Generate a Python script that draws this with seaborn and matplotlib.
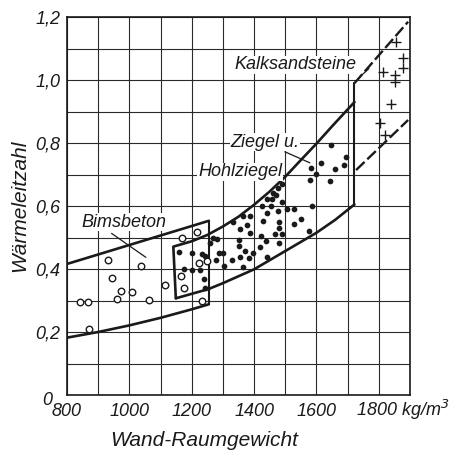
import matplotlib
matplotlib.use("Agg")
import matplotlib.pyplot as plt
import seaborn as sns
import pandas as pd
import numpy as np

# ---------------- data ----------------
# Bimsbeton (open circles)
bims_x = [842, 868, 871, 933, 944, 960, 973, 1008, 1036, 1064, 1115, 1166, 1168, 1176, 1216, 1222, 1233, 1248]
bims_y = [0.295, 0.295, 0.211, 0.428, 0.372, 0.304, 0.330, 0.327, 0.409, 0.301, 0.348, 0.377, 0.498, 0.341, 0.516, 0.418, 0.297, 0.425]

# Ziegel u. Hohlziegel (filled dots)
zieg_x = [1160, 1200, 1232, 1243, 1176, 1200, 1228, 1240, 1241,
          1258, 1268, 1278, 1280, 1286, 1299, 1303, 1328, 1333, 1352, 1352, 1354, 1354,
          1365, 1365, 1370, 1376, 1384, 1387, 1387, 1397, 1419, 1421, 1424, 1429, 1438,
          1440, 1440, 1440, 1454, 1456, 1467, 1470, 1477, 1481, 1481, 1481, 1491, 1491,
          1490, 1477, 1461, 1504, 1529, 1529, 1552, 1575, 1587,
          1579, 1584, 1600, 1616, 1643, 1648, 1659, 1688, 1694]
zieg_y = [0.453, 0.450, 0.448, 0.440, 0.400, 0.397, 0.396, 0.367, 0.340,
          0.481, 0.497, 0.429, 0.494, 0.450, 0.450, 0.410, 0.429, 0.550, 0.492, 0.473, 0.526, 0.439,
          0.568, 0.407, 0.458, 0.540, 0.434, 0.568, 0.513, 0.452, 0.471, 0.505, 0.600, 0.553, 0.490,
          0.439, 0.579, 0.621, 0.600, 0.621, 0.511, 0.635, 0.585, 0.550, 0.529, 0.481, 0.614, 0.511,
          0.670, 0.656, 0.641, 0.589, 0.589, 0.543, 0.558, 0.522, 0.600,
          0.683, 0.722, 0.702, 0.735, 0.678, 0.794, 0.718, 0.730, 0.754]

# Kalksandsteine (crosses)
kalk_x = [1856, 1877, 1877, 1815, 1851, 1851, 1840, 1803, 1819]
kalk_y = [1.120, 1.071, 1.037, 1.026, 1.016, 0.995, 0.924, 0.863, 0.825]

# region boundaries
bims_up_x = [800, 1255]
bims_up_y = [0.416, 0.553]
bims_lo_x = [800, 900, 1000, 1100, 1200, 1255]
bims_lo_y = [0.182, 0.200, 0.221, 0.245, 0.272, 0.288]
bims_edge_x = [1255, 1255]
bims_edge_y = [0.553, 0.288]

zieg_up_x = [1149, 1141, 1200, 1250, 1300, 1350, 1400, 1450, 1500, 1550, 1600, 1650, 1722]
zieg_up_y = [0.307, 0.471, 0.488, 0.508, 0.535, 0.566, 0.604, 0.646, 0.693, 0.746, 0.798, 0.853, 0.930]
zieg_lo_x = [1149, 1253, 1300, 1400, 1500, 1600, 1660, 1722]
zieg_lo_y = [0.307, 0.336, 0.355, 0.399, 0.457, 0.515, 0.556, 0.605]
edge_x = [1722, 1722]
edge_y = [0.605, 0.990]

kalk_up_x = [1722, 1894]
kalk_up_y = [0.990, 1.185]
kalk_lo_x = [1727, 1894]
kalk_lo_y = [0.714, 0.873]

x_ticks = list(range(800, 1901, 100))
x_labels = ["800", "", "1000", "", "1200", "", "1400", "", "1600", "", "", ""]
y_ticks = [round(0.1 * i, 1) for i in range(13)]
y_labels = ["", "", "0,2", "", "0,4", "", "0,6", "", "0,8", "", "1,0", "", "1,2"]
last_x_label = "1800 kg/m$^3$"
origin_label = "0"

# ---------------- style ----------------
sns.set_theme(style="white")
FAM = ["Liberation Sans Narrow", "Liberation Sans", "DejaVu Sans"]
plt.rcParams["font.family"] = FAM
plt.rcParams["font.style"] = "italic"
INK = "#1a1a1a"

fig = plt.figure(figsize=(4.51, 4.5), dpi=100)
ax = fig.add_axes([67 / 451, 1 - 395 / 450, (410 - 67) / 451, (395 - 17) / 450])

def line(xs, ys, **kw):
    df = pd.DataFrame({"x": xs, "y": ys})
    sns.lineplot(data=df, x="x", y="y", sort=False, estimator=None, ax=ax,
                 color=INK, legend=False, **kw)

lw = 1.9
line(bims_up_x, bims_up_y, lw=lw)
line(bims_lo_x, bims_lo_y, lw=lw)
line(bims_edge_x, bims_edge_y, lw=1.5)
line(zieg_up_x, zieg_up_y, lw=lw)
line(zieg_lo_x, zieg_lo_y, lw=lw)
line(edge_x, edge_y, lw=1.5)
line(kalk_up_x, kalk_up_y, lw=1.7, linestyle=(0, (5, 1.6)))
line(kalk_lo_x, kalk_lo_y, lw=1.7, linestyle=(0, (5, 1.6)))

# leader lines
line([943, 1053], [0.513, 0.437], lw=0.9)
line([1499, 1579], [0.772, 0.737], lw=0.9)
line([1748, 1768], [1.018, 1.036], lw=0.9)

sns.scatterplot(x=bims_x, y=bims_y, ax=ax, marker="o", s=22,
                facecolor="white", edgecolor=INK, linewidth=1.0, zorder=5)
sns.scatterplot(x=zieg_x, y=zieg_y, ax=ax, marker="o", s=17,
                color=INK, edgecolor=INK, linewidth=0, zorder=5)
sns.scatterplot(x=kalk_x, y=kalk_y, ax=ax, marker="+", s=45,
                color=INK, linewidth=1.0, zorder=5)

ax.set_xlim(800, 1900)
ax.set_ylim(0, 1.2)
ax.set_xticks(x_ticks)
ax.set_xticklabels(x_labels)
ax.set_yticks(y_ticks)
ax.set_yticklabels(y_labels)
ax.tick_params(axis="both", length=0, labelsize=13, colors=INK)
ax.tick_params(axis="x", pad=6)
ax.tick_params(axis="y", pad=5)
ax.grid(True, color="#2a2a2a", lw=0.8)
ax.set_axisbelow(True)
for s in ax.spines.values():
    s.set_visible(True)
    s.set_color(INK)
    s.set_linewidth(1.2)

ax.set_xlabel("Wand-Raumgewicht", fontsize=15, color=INK, labelpad=3)
ax.xaxis.set_label_coords(0.40, -0.095)
ax.set_ylabel("Wärmeleitzahl", fontsize=15, color=INK, labelpad=4)

# "1800 kg/m³" and the corner "0", placed like the original
ax.text(1728, -0.048, last_x_label, fontsize=13, color=INK, ha="left", va="center")
ax.text(752, -0.018, origin_label, fontsize=13, color=INK, ha="right", va="center")

ax.text(1531, 1.048, "Kalksandsteine", fontsize=13, ha="center", va="center", color=INK,
        bbox=dict(facecolor="white", edgecolor="none", pad=0.5))
ax.text(1435, 0.803, "Ziegel u.", fontsize=13, ha="center", va="center", color=INK,
        bbox=dict(facecolor="white", edgecolor="none", pad=0.5))
ax.text(1355, 0.708, "Hohlziegel", fontsize=13, ha="center", va="center", color=INK,
        bbox=dict(facecolor="white", edgecolor="none", pad=0.5))
ax.text(983, 0.549, "Bimsbeton", fontsize=13, ha="center", va="center", color=INK,
        bbox=dict(facecolor="white", edgecolor="none", pad=0.5))

fig.savefig("out.png", dpi=100)
